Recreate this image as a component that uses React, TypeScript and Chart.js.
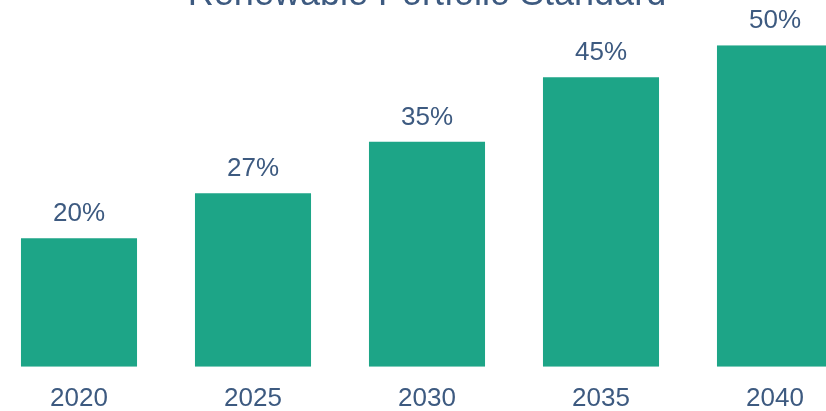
import React, { useEffect, useRef } from "react";
import { Chart, registerables } from "chart.js";

Chart.register(...registerables);

const years = ["2020", "2025", "2030", "2035", "2040"];
const rpsPercent = [20, 27, 35, 45, 50];
const titleText = "Renewable Portfolio Standard";

const TEXT_COLOR = "#3d5a80";
const BAR_COLOR = "#1da587";
const FONT = "'Liberation Sans', Arial, sans-serif";

const valueLabels = {
  id: "valueLabels",
  afterDatasetsDraw(chart: any) {
    const ctx = chart.ctx;
    const meta = chart.getDatasetMeta(0);
    ctx.save();
    ctx.fillStyle = TEXT_COLOR;
    ctx.font = `26px ${FONT}`;
    ctx.textAlign = "center";
    ctx.textBaseline = "alphabetic";
    meta.data.forEach((el: any, i: number) => {
      ctx.fillText(`${rpsPercent[i]}%`, el.x, el.y - 17);
    });
    ctx.restore();
  },
};

export default function App() {
  const ref = useRef<HTMLCanvasElement>(null);
  useEffect(() => {
    if (!ref.current) return;
    const chart = new Chart(ref.current, {
      type: "bar",
      data: {
        labels: years,
        datasets: [
          {
            data: rpsPercent,
            backgroundColor: BAR_COLOR,
            borderWidth: 0,
            categoryPercentage: 1,
            barPercentage: 0.667,
          },
        ],
      },
      options: {
        animation: false,
        responsive: true,
        maintainAspectRatio: false,
        layout: { padding: 0 },
        plugins: {
          legend: { display: false },
          tooltip: { enabled: false },
          title: {
            display: true,
            text: titleText,
            color: TEXT_COLOR,
            font: { family: FONT, size: 36, weight: "normal" },
            padding: { top: 0, bottom: 29 },
          },
        },
        scales: {
          x: {
            grid: { display: false, drawTicks: false },
            border: { display: false },
            ticks: {
              color: TEXT_COLOR,
              font: { family: FONT, size: 26 },
              padding: 16,
            },
          },
          y: {
            display: false,
            min: 0,
            max: 50,
          },
        },
      },
      plugins: [valueLabels],
    });
    return () => chart.destroy();
  }, []);

  return (
    <div
      style={{
        position: "fixed",
        left: 0,
        top: 0,
        width: 826,
        height: 411,
        overflow: "hidden",
        background: "#fff",
      }}
    >
      <div
        style={{
          position: "absolute",
          left: -8,
          top: -27,
          width: 870,
          height: 457,
        }}
      >
        <canvas ref={ref} />
      </div>
    </div>
  );
}
